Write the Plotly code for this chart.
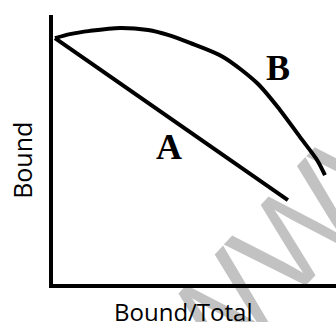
import plotly.graph_objects as go

# curve A: straight line, curve B: bowed curve (pixel-read values, axes 0..1)
a_x = [0.007, 0.830]
a_y = [0.914, 0.312]

b_x = [0.007, 0.060, 0.131, 0.237, 0.336, 0.406, 0.484, 0.601, 0.721, 0.802, 0.873, 0.933, 0.961]
b_y = [0.914, 0.929, 0.941, 0.952, 0.944, 0.926, 0.896, 0.844, 0.747, 0.647, 0.546, 0.461, 0.405]

labels = ["A", "B"]
label_x = [0.410, 0.795]
label_y = [0.509, 0.803]

x_title = "Bound/Total"
y_title = "Bound"
watermark = "WWW"

fig = go.Figure()
fig.add_trace(go.Scatter(x=a_x, y=a_y, mode="lines",
                         line=dict(color="black", width=4), hoverinfo="skip"))
fig.add_trace(go.Scatter(x=b_x, y=b_y, mode="lines",
                         line=dict(color="black", width=4, shape="spline", smoothing=0.8),
                         hoverinfo="skip"))

ann = []
for t, x, y in zip(labels, label_x, label_y):
    ann.append(dict(x=x, y=y, xref="x", yref="y", text="<b>" + t + "</b>", showarrow=False,
                    xanchor="center", yanchor="middle",
                    font=dict(family="Liberation Serif", size=36, color="black")))

# axis titles placed by hand, off-centre like the picture
ann.append(dict(x=0.461, y=-0.104, xref="paper", yref="paper", text=x_title, showarrow=False,
                xanchor="center", yanchor="middle",
                font=dict(family="Open Sans", size=24, color="black")))
ann.append(dict(x=-0.11, y=0.461, xref="paper", yref="paper", text=y_title, showarrow=False,
                xanchor="center", yanchor="middle",
                textangle=-90, font=dict(family="Open Sans", size=25, color="black")))

# grey watermark, semi-transparent so the black lines still show through
ann.append(dict(x=0.86, y=0.20, xref="paper", yref="paper", text=watermark, showarrow=False,
                xanchor="center", yanchor="middle",
                textangle=-47, font=dict(family="Liberation Sans", size=128, color="rgba(0,0,0,0.24)")))

fig.update_layout(
    width=336, height=322,
    margin=dict(l=53, r=0, t=15, b=38),
    paper_bgcolor="white", plot_bgcolor="white",
    showlegend=False,
    annotations=ann,
    xaxis=dict(range=[0, 1], showgrid=False, zeroline=False, showticklabels=False,
               ticks="", showline=True, linewidth=4, linecolor="black", fixedrange=True),
    yaxis=dict(range=[0, 1], showgrid=False, zeroline=False, showticklabels=False,
               ticks="", showline=True, linewidth=4, linecolor="black", fixedrange=True),
)

fig.write_html("out.html", config={"displayModeBar": False},
               post_script="document.body.style.margin='0';")
